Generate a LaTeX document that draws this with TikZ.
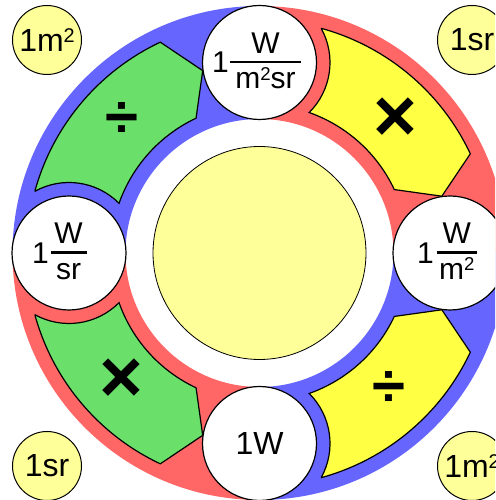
\documentclass[tikz,border=0pt]{standalone}
\usepackage{fontspec}
\usepackage{graphicx}
\setmainfont{Liberation Sans}
\usetikzlibrary{calc}
\definecolor{ringblue}{RGB}{102,102,255}
\definecolor{ringred}{RGB}{255,102,102}
\definecolor{seggreen}{RGB}{106,224,106}
\definecolor{segyellow}{RGB}{255,255,68}
\definecolor{paleyellow}{RGB}{255,255,153}
\newcommand\sqtwo{\raisebox{0.29em}{\scalebox{0.62}{2}}}
\begin{document}
\begin{tikzpicture}[x=1pt,y=1pt,
  unitcircle/.style={circle, draw=black, line width=1.2pt, fill=white, minimum size=114pt, inner sep=0pt, font=\fontsize{32}{36}\selectfont},
  smallcircle/.style={circle, draw=black, line width=1pt, fill=paleyellow, minimum size=69pt, inner sep=0pt, font=\fontsize{32}{36}\selectfont},
  segment/.style={draw=black, line width=1.2pt, line join=miter},
  segshape/.style={insert path={(164.657:233pt) arc[start angle=164.657,end angle=115.2,radius=233pt] -- (107.3:191pt) -- (115.2:149pt) arc[start angle=115.2,end angle=160.525,radius=149pt] arc[start angle=44.8,end angle=119.01,radius=70.5pt] -- cycle}},
  frtext/.style={font=\fontsize{30}{34}\selectfont, inner sep=0pt, anchor=base},
  fracbar/.style={line width=2.7pt},
  opdiv/.style={font=\bfseries\fontsize{60}{62}\selectfont, inner sep=0pt},
  opmul/.style={font=\bfseries\fontsize{75}{78}\selectfont, inner sep=0pt}
]
\useasboundingbox (0,0) rectangle (495,500);
\clip (0,0) rectangle (495,500);
\coordinate (C) at (259.5,247);
% coloured ring
\begin{scope}[shift={(C)}]
 \fill[ringblue] (90:247pt) arc[start angle=90,end angle=180,radius=247pt] -- (180:134pt) arc[start angle=180,end angle=90,radius=134pt] -- cycle;
 \fill[ringred] (0:247pt) arc[start angle=0,end angle=90,radius=247pt] -- (90:134pt) arc[start angle=90,end angle=0,radius=134pt] -- cycle;
 \fill[ringblue] (270:247pt) arc[start angle=270,end angle=360,radius=247pt] -- (0:134pt) arc[start angle=360,end angle=270,radius=134pt] -- cycle;
 \fill[ringred] (180:247pt) arc[start angle=180,end angle=270,radius=247pt] -- (270:134pt) arc[start angle=270,end angle=180,radius=134pt] -- cycle;
\end{scope}
% segments
\begin{scope}[shift={(C)}]
 \draw[segment, fill=seggreen, segshape];
\end{scope}
\begin{scope}[shift={(C)}, rotate=-90]
 \draw[segment, fill=segyellow, segshape];
\end{scope}
\begin{scope}[shift={(C)}, yscale=-1]
 \draw[segment, fill=seggreen, segshape];
\end{scope}
\begin{scope}[shift={(C)}, rotate=90, yscale=-1]
 \draw[segment, fill=segyellow, segshape];
\end{scope}
% centre
\node[circle, draw=black, line width=0.8pt, fill=paleyellow, minimum size=213pt, inner sep=0pt] (core) at (C) {};
% unit circles
\node[unitcircle] (nT) at (259.5,437.5) {};
\node[unitcircle] (nR) at (450,247) {};
\node[unitcircle] (nB) at (259.5,56.5) {1W};
\node[unitcircle] (nL) at (69,247) {};
% top fraction
\node[frtext] (tOne) at ([shift={(-39,-10.5)}]nT.center) {1};
\draw[fracbar] ([shift={(-29.5,0.5)}]nT.center) -- ([shift={(41,0.5)}]nT.center);
\node[frtext] (tNum) at ([shift={(6,9)}]nT.center) {W};
\node[frtext] (tDen) at ([shift={(6,-26.5)}]nT.center) {m\sqtwo sr};
% left fraction
\node[frtext] (lOne) at ([shift={(-28.5,-10.5)}]nL.center) {1};
\draw[fracbar] ([shift={(-18.3,0.5)}]nL.center) -- ([shift={(17.5,0.5)}]nL.center);
\node[frtext] (lNum) at ([shift={(-0.4,9)}]nL.center) {W};
\node[frtext] (lDen) at ([shift={(-0.4,-26.5)}]nL.center) {sr};
% right fraction
\node[frtext] (rOne) at ([shift={(-24.5,-10.5)}]nR.center) {1};
\draw[fracbar] ([shift={(-13.3,0.5)}]nR.center) -- ([shift={(27,0.5)}]nR.center);
\node[frtext] (rNum) at ([shift={(6.8,9)}]nR.center) {W};
\node[frtext] (rDen) at ([shift={(6.8,-26.5)}]nR.center) {m\sqtwo};
% operators
\node[opdiv] (opTL) at (121.7,380) {÷};
\node[opmul] (opTR) at (395,380.7) {×};
\node[opmul] (opBL) at (121.7,119.5) {×};
\node[opdiv] (opBR) at (389,111) {÷};
% corner circles
\node[smallcircle] (cTL) at (47,460) {1m\sqtwo};
\node[smallcircle] (cTR) at (472,460) {1sr};
\node[smallcircle] (cBL) at (47,34) {1sr};
\node[smallcircle] (cBR) at (472,34) {1m\sqtwo};
\end{tikzpicture}
\end{document}
